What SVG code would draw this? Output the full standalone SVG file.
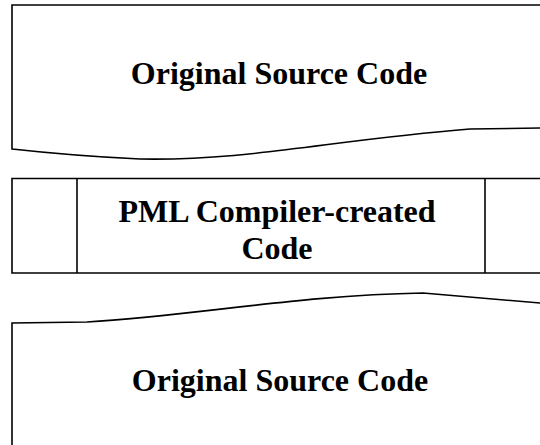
<svg xmlns="http://www.w3.org/2000/svg" width="540" height="445" viewBox="0 0 540 445">
<style>
.s{fill:#fff;stroke:#000;stroke-width:1.6;stroke-linejoin:miter}
.t{font-family:"Liberation Serif","Times New Roman",serif;font-weight:bold;font-size:32px;fill:#000;text-anchor:middle}
</style>
<rect width="540" height="445" fill="#fff"/>
<g id="top-source">
<path class="s" d="M545,5 L12,5 L12,149 Q75,156 140,159 C250,161 330,140 470,129 L545,128"/>
<text class="t" x="279" y="84">Original Source Code</text>
</g>
<g id="pml-code">
<path class="s" d="M545,178.5 L12,178.5 L12,273 L545,273"/>
<line class="s" x1="77" y1="178.5" x2="77" y2="273"/>
<line class="s" x1="485" y1="178.5" x2="485" y2="273"/>
<text class="t" x="277" y="222">PML Compiler-created</text>
<text class="t" x="277" y="259">Code</text>
</g>
<g id="bottom-source">
<path class="s" d="M12,450 L12,323 L87,322 C200,315 300,295 423,293 L545,303.5"/>
<text class="t" x="280" y="391">Original Source Code</text>
</g>
<g id="connectors"></g>
</svg>
